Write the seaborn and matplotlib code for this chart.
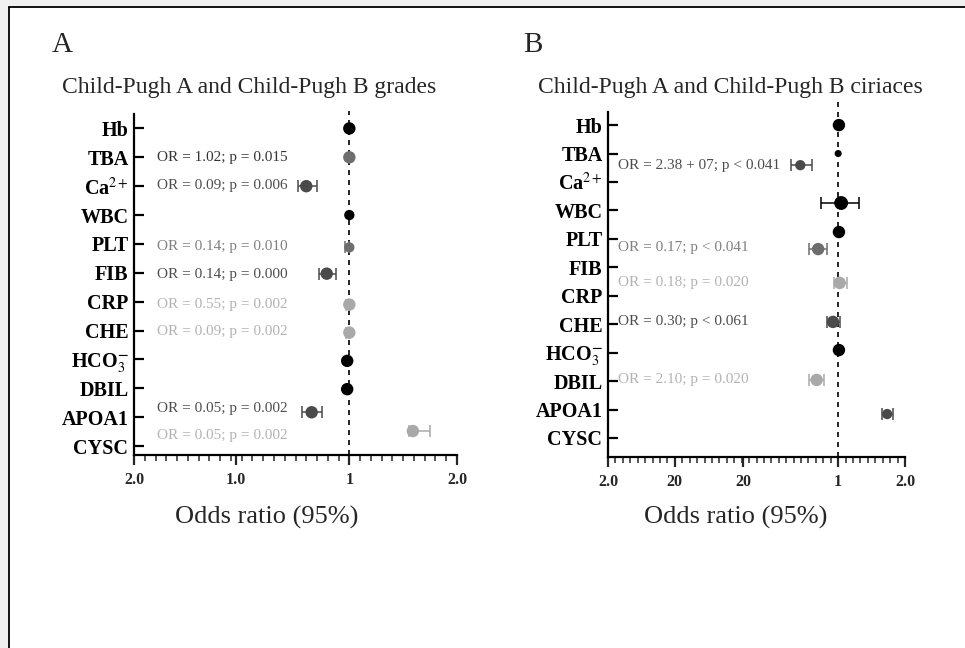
import numpy as np
import pandas as pd
import matplotlib
matplotlib.use("Agg")
import matplotlib.pyplot as plt
from matplotlib.lines import Line2D
from matplotlib.patches import Rectangle
from matplotlib.ticker import MultipleLocator
import seaborn as sns

# ---- data ----
labels = ["Hb", "TBA", r"Ca$^{2+}$", "WBC", "PLT", "FIB", "CRP", "CHE",
          r"HCO$_3^{\mathbf{-}}$", "DBIL", "APOA1", "CYSC"]

# panel A (x in axis units, OR = 1 sits at 2.0)
a_row = [0, 1, 2, 3, 4.12, 5.03, 6.1, 7.07, 8.05, 9.03, 9.83, 10.48]
a_est = [2.0, 2.0, 1.60, 2.0, 2.0, 1.79, 2.0, 2.0, 1.98, 1.98, 1.65, 2.59]
a_lo = [np.nan, np.nan, 1.52, np.nan, 1.96, 1.72, 1.97, 1.97, np.nan, np.nan, 1.56, 2.55]
a_hi = [np.nan, np.nan, 1.70, np.nan, 2.0, 1.88, 2.0, 2.0, np.nan, np.nan, 1.75, 2.75]
a_grp = ["k", "m", "d", "k", "m", "d", "l", "l", "k", "k", "d", "l"]
a_size = ["big", "big", "big", "mid", "mid", "big", "big", "big", "big", "big", "big", "big"]
a_note_row = [1.0, 1.97, 4.08, 5.05, 6.1, 7.05, 9.69, 10.62]
a_note_txt = ["OR = 1.02; p = 0.015", "OR = 0.09; p = 0.006", "OR = 0.14; p = 0.010",
              "OR = 0.14; p = 0.000", "OR = 0.55; p = 0.002", "OR = 0.09; p = 0.002",
              "OR = 0.05; p = 0.002", "OR = 0.05; p = 0.002"]
a_note_grp = ["t", "d", "m", "d", "l", "l", "d", "l"]
a_ticks = [0, 0.95, 2.0, 3.0]
a_ticklabels = ["2.0", "1.0", "1", "2.0"]

# panel B (x in axis units, OR = 1 sits at 3.1)
b_row = [0, 1, 1.41, 2.74, 3.76, 4.36, 5.55, 6.92, 7.91, 8.96, 10.16]
b_est = [3.11, 3.10, 2.59, 3.14, 3.11, 2.83, 3.12, 3.03, 3.11, 2.81, 3.76]
b_lo = [np.nan, np.nan, 2.46, 2.87, np.nan, 2.71, 3.04, 2.95, np.nan, 2.71, 3.69]
b_hi = [np.nan, np.nan, 2.75, 3.38, np.nan, 2.95, 3.22, 3.12, np.nan, 2.91, 3.84]
b_grp = ["k", "k", "d", "k", "k", "m", "l", "d", "k", "l", "d"]
b_size = ["big", "small", "mid", "xl", "big", "big", "big", "big", "big", "big", "mid"]
b_note_row = [1.41, 4.32, 5.52, 6.89, 8.93]
b_note_txt = ["OR = 2.38 + 07; p < 0.041", "OR = 0.17; p < 0.041", "OR = 0.18; p = 0.020",
              "OR = 0.30; p < 0.061", "OR = 2.10; p = 0.020"]
b_note_grp = ["d", "m", "l", "d", "l"]
b_ticks = [0, 0.9, 1.82, 3.1, 4.0]
b_ticklabels = ["2.0", "20", "20", "1", "2.0"]

pal = {"k": "#000000", "d": "#4a4a4a", "m": "#6e6e6e", "l": "#a9a9a9", "t": "#333333"}
txt_pal = {"t": "#333333", "d": "#4d4d4d", "m": "#808080", "l": "#b3b3b3"}
size_map = {"small": 26, "mid": 55, "big": 80, "xl": 100}

sns.set_theme(style="ticks")
plt.rcParams["font.family"] = ["Liberation Serif", "DejaVu Serif"]
plt.rcParams["mathtext.fontset"] = "stix"

fig = plt.figure(figsize=(9.65, 6.48), dpi=100)
fig.patch.set_facecolor("#f0f0f0")
W, H = 965, 648
fig.add_artist(Rectangle((9 / W, 0), 1, 1 - 7 / H, transform=fig.transFigure,
                         facecolor="white", edgecolor="none", zorder=-5))
fig.add_artist(Line2D([9 / W, 9 / W], [0, 1 - 7 / H], transform=fig.transFigure, color="black", lw=1.3))
fig.add_artist(Line2D([9 / W, 1], [1 - 7 / H, 1 - 7 / H], transform=fig.transFigure, color="black", lw=1.3))


def px_axes(l, r, t, b):
    return fig.add_axes([l / W, 1 - b / H, (r - l) / W, (b - t) / H])


def panel(ax, rows, est, lo, hi, grp, size, notes_r, notes_t, notes_g, note_x,
          ticks, ticklabels, xlim, ylim, ref, ref_top):
    df = pd.DataFrame({"row": rows, "est": est, "lo": lo, "hi": hi, "grp": grp, "size": size})
    for _, r in df.dropna().iterrows():
        ax.errorbar(r["est"], r["row"], xerr=[[r["est"] - r["lo"]], [r["hi"] - r["est"]]],
                    fmt="none", ecolor=pal[r["grp"]], elinewidth=1.1, capsize=4, capthick=1.1, zorder=2)
    ax.axvline(ref, ymin=0, ymax=ref_top, color="black", ls=(0, (3, 3)), lw=1.2, zorder=1, clip_on=False)
    sns.scatterplot(data=df, x="est", y="row", hue="grp", palette=pal, size="size", sizes=size_map,
                    edgecolor="none", legend=False, ax=ax, zorder=3)
    for r, t, g in zip(notes_r, notes_t, notes_g):
        ax.text(note_x, r, t, color=txt_pal[g], fontsize=11, va="center", ha="left")
    ax.set_xlim(*xlim)
    ax.set_ylim(*ylim)
    ax.set_yticks(range(len(labels)))
    ax.set_yticklabels(labels, fontsize=14.5, fontweight="bold")
    ax.set_xticks(ticks)
    ax.set_xticklabels(ticklabels, fontsize=11.5, fontweight="bold")
    ax.xaxis.set_minor_locator(MultipleLocator(0.1))
    ax.tick_params(axis="y", direction="in", length=7, width=1.6, pad=4, colors="black")
    ax.tick_params(axis="x", which="major", direction="out", length=7, width=1.6, pad=5)
    ax.tick_params(axis="x", which="minor", direction="out", length=4, width=1.1)
    ax.set_xlabel("")
    ax.set_ylabel("")
    ax.set_facecolor("none")
    sns.despine(ax=ax)
    for s in ("left", "bottom"):
        ax.spines[s].set_linewidth(1.6)
        ax.spines[s].set_color("black")


ax_a = px_axes(134, 457, 114, 455)
panel(ax_a, a_row, a_est, a_lo, a_hi, a_grp, a_size, a_note_row, a_note_txt, a_note_grp, 0.21,
      a_ticks, a_ticklabels, (0, 3), (11.31, -0.5), 2.0, 1.01)

ax_b = px_axes(608, 905, 112, 457)
panel(ax_b, b_row, b_est, b_lo, b_hi, b_grp, b_size, b_note_row, b_note_txt, b_note_grp, 0.14,
      b_ticks, b_ticklabels, (0, 4), (11.67, -0.46), 3.1, 1.035)

fig.text(62 / W, 1 - 45 / H, "A", fontsize=21, ha="center", va="center")
fig.text(533 / W, 1 - 45 / H, "B", fontsize=21, ha="center", va="center")
fig.text(249 / W, 1 - 88 / H, "Child-Pugh A and Child-Pugh B grades", fontsize=17, ha="center", va="center")
fig.text(730 / W, 1 - 87 / H, "Child-Pugh A and Child-Pugh B ciriaces", fontsize=17, ha="center", va="center")
fig.text(267 / W, 1 - 517 / H, "Odds ratio (95%)", fontsize=19, ha="center", va="center")
fig.text(736 / W, 1 - 517 / H, "Odds ratio (95%)", fontsize=19, ha="center", va="center")

fig.savefig("out.png", dpi=100, facecolor=fig.get_facecolor())
